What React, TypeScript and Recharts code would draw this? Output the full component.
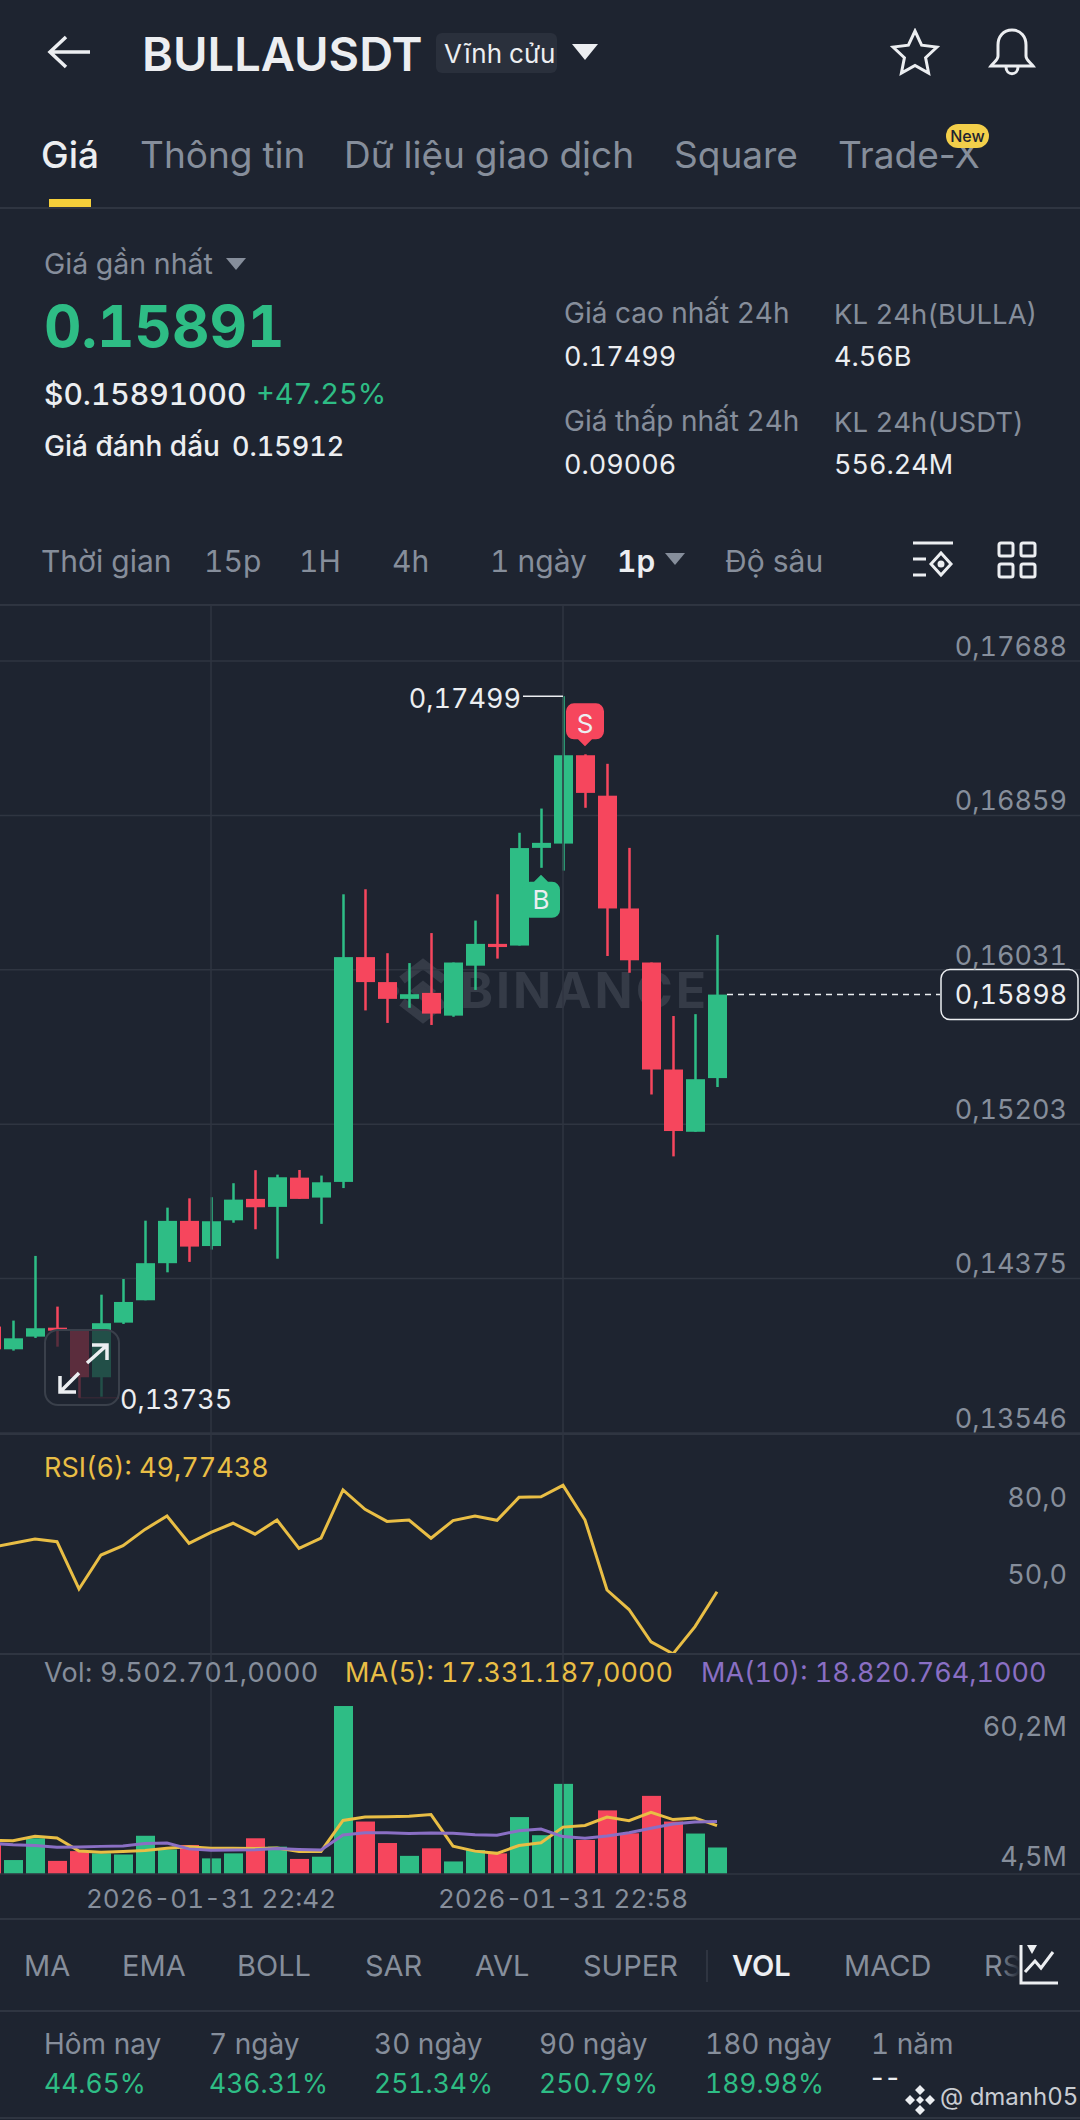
import { Bar, CartesianGrid, ComposedChart, Line, ReferenceDot, ReferenceLine, XAxis, YAxis } from "recharts";

const BG = "#1e2430";
const GRID = "#2f3541";
const GREEN = "#2ebd85";
const RED = "#f6465d";
const GREY = "#868e9b";
const YELLOW = "#e9be45";
const PURPLE = "#8a6fc4";
const WHITE = "#eceef1";
const FONT = "Inter, 'Noto Sans', sans-serif";

const times = [
  "22:32", "22:33", "22:34", "22:35", "22:36", "22:37", "22:38", "22:39", "22:40", "22:41", "22:42", "22:43",
  "22:44", "22:45", "22:46", "22:47", "22:48", "22:49", "22:50", "22:51", "22:52", "22:53", "22:54", "22:55",
  "22:56", "22:57", "22:58", "22:59", "23:00", "23:01", "23:02", "23:03", "23:04", "23:05",
];
const opens = [
  0.14117, 0.13995, 0.14063, 0.14111, 0.14095, 0.13845, 0.14138, 0.14258, 0.14457, 0.14684, 0.14549, 0.14687,
  0.14802, 0.14759, 0.14916, 0.14809, 0.14893, 0.16099, 0.15965, 0.15875, 0.15907, 0.15785, 0.16053, 0.1617,
  0.16161, 0.16685, 0.16708, 0.17182, 0.16965, 0.1636, 0.1607, 0.15496, 0.15162, 0.1545,
];
const highs = [
  0.14224, 0.14149, 0.14496, 0.14224, 0.14095, 0.14288, 0.14372, 0.14685, 0.14755, 0.14805, 0.14811, 0.14886,
  0.14956, 0.14932, 0.14957, 0.14927, 0.16436, 0.16463, 0.1612, 0.16067, 0.16228, 0.1607, 0.16295, 0.16436,
  0.16766, 0.16896, 0.17499, 0.17187, 0.17136, 0.16685, 0.1607, 0.15783, 0.15793, 0.16218,
];
const lows = [
  0.13995, 0.13988, 0.14056, 0.14009, 0.13735, 0.13741, 0.14131, 0.14258, 0.14408, 0.14464, 0.1453, 0.14674,
  0.14639, 0.14481, 0.14802, 0.14668, 0.1486, 0.15813, 0.15746, 0.15827, 0.15735, 0.15779, 0.15923, 0.16091,
  0.16161, 0.16578, 0.16563, 0.169, 0.16105, 0.16015, 0.15362, 0.1503, 0.15162, 0.15402,
];
const closes = [
  0.13995, 0.14054, 0.14108, 0.14095, 0.13845, 0.14135, 0.14249, 0.14457, 0.14684, 0.14546, 0.14682, 0.14798,
  0.14757, 0.14918, 0.14802, 0.14891, 0.16099, 0.15965, 0.15875, 0.159, 0.15796, 0.1607, 0.1617, 0.16153,
  0.16684, 0.16712, 0.17182, 0.1698, 0.1636, 0.16082, 0.15496, 0.15166, 0.15444, 0.15898,
];
const rsi = [
  66.4, 67.9, 69.5, 68.5, 50.8, 63.5, 67.0, 73.1, 78.1, 67.9, 72.0, 75.4, 71.3, 76.6, 66.0, 69.8, 87.9, 80.6, 76.1,
  76.6, 69.8, 76.4, 78.1, 76.5, 85.1, 85.3, 89.6, 76.6, 50.4, 43.1, 31.0, 26.5, 36.7, 49.77,
];
const volumes = [
  10.4, 5.0, 12.8, 4.7, 8.2, 7.4, 7.0, 13.7, 8.8, 10.4, 5.6, 7.4, 12.8, 9.8, 5.4, 6.2, 60.2, 18.8, 11.1, 6.5, 9.2,
  4.5, 8.6, 7.4, 20.4, 13.9, 32.3, 12.2, 22.8, 14.6, 28.0, 18.8, 14.5, 9.5,
];
const ma5 = [
  12.1, 11.9, 13.5, 12.9, 8.2, 7.8, 8.1, 8.4, 9.2, 9.8, 9.2, 9.2, 9.1, 9.3, 8.1, 8.1, 19.2, 20.4, 20.5, 20.7, 21.3,
  10.0, 8.2, 7.4, 10.2, 11.2, 16.8, 17.4, 20.4, 19.1, 22.1, 19.5, 20.1, 17.33,
];
const ma10 = [
  11.0, 10.5, 10.2, 9.6, 9.7, 9.9, 10.0, 10.9, 11.1, 9.0, 8.5, 8.6, 8.7, 9.1, 8.8, 8.6, 14.0, 14.8, 14.8, 14.5, 14.7,
  14.6, 14.1, 13.9, 15.5, 16.1, 13.4, 12.8, 13.6, 14.8, 16.4, 17.9, 18.6, 18.82,
];
const priceTicks = [0.17688, 0.16859, 0.16031, 0.15203, 0.14375, 0.13546];
const rsiTicks = [80, 50];
const volTicks = [60.2, 4.5];
const dateTicks = ["22:42", "22:58"];
const lastPrice = 0.15898;

const EMPTY_SLOTS = 16;
const rows = [
  ...times.map((time, i) => ({
    time,
    open: opens[i],
    high: highs[i],
    low: lows[i],
    close: closes[i],
    range: [lows[i], highs[i]],
    rsi: rsi[i],
    vol: volumes[i],
    ma5: ma5[i],
    ma10: ma10[i],
    up: closes[i] >= opens[i],
  })),
  ...Array.from({ length: EMPTY_SLOTS }, (_, i) => ({ time: `x${i}` })),
];

function Candle(props: any) {
  const { x, y, width, height, payload } = props;
  if (!payload || payload.high == null) return null;
  const k = Math.abs(height) / (payload.high - payload.low);
  const yOf = (v: number) => y + (payload.high - v) * k;
  const color = payload.up ? GREEN : RED;
  const top = yOf(Math.max(payload.open, payload.close));
  const bottom = yOf(Math.min(payload.open, payload.close));
  return (
    <g>
      <rect x={x + width / 2 - 1.25} y={y} width={2.5} height={Math.abs(height)} fill={color} />
      <rect x={x} y={top} width={width} height={Math.max(bottom - top, 1)} fill={color} />
    </g>
  );
}

function VolBar(props: any) {
  const { x, y, width, height, payload } = props;
  if (!payload || payload.vol == null) return null;
  return <rect x={x} y={y} width={width} height={height} fill={payload.up ? GREEN : RED} />;
}

const axisText = { fill: GREY, fontSize: 27, fontFamily: FONT, textAnchor: "end" as const };

function PriceTick({ y, payload }: any) {
  return (
    <text x={1087} y={y - 15} dy="0.36em" {...axisText}>
      {payload.value.toFixed(5).replace(".", ",")}
    </text>
  );
}

function RsiTick({ y, payload }: any) {
  return (
    <text x={1087} y={payload.value === 50 ? y - 17 : y - 14} dy="0.36em" {...axisText}>
      {payload.value.toFixed(1).replace(".", ",")}
    </text>
  );
}

function VolTick({ y, payload }: any) {
  return (
    <text x={1087} y={payload.value > 30 ? y + 20 : y - 5} dy="0.36em" {...axisText}>
      {payload.value.toFixed(1).replace(".", ",")}M
    </text>
  );
}

function DateTick({ x, y, payload }: any) {
  return (
    <text x={x} y={y + 17} dy="0.36em" fill={GREY} fontSize={26} fontFamily={FONT} textAnchor="middle">
      2026-01-31 {payload.value}
    </text>
  );
}

function HighLabel({ cx, cy }: any) {
  return (
    <g>
      <line x1={cx - 40} x2={cx} y1={cy} y2={cy} stroke={WHITE} strokeWidth={1.5} />
      <text x={cx - 42} y={cy + 2} dy="0.36em" fill={WHITE} fontSize={27} fontFamily={FONT} textAnchor="end">
        0,17499
      </text>
    </g>
  );
}

function LowLabel({ cx, cy }: any) {
  return (
    <g>
      <line x1={cx} x2={cx + 40} y1={cy} y2={cy} stroke={RED} strokeOpacity={0.35} strokeWidth={1.5} />
      <text x={cx + 41} y={cy + 2} dy="0.36em" fill={WHITE} fontSize={27} fontFamily={FONT}>
        0,13735
      </text>
    </g>
  );
}

function SellMark({ cx, cy }: any) {
  const t = cy - 8;
  return (
    <g>
      <path d={`M${cx} ${t} l-7 -7 h-4 a8 8 0 0 1 -8 -8 v-20 a8 8 0 0 1 8 -8 h22 a8 8 0 0 1 8 8 v20 a8 8 0 0 1 -8 8 h-4 z`} fill={RED} />
      <text x={cx} y={t - 23} dy="0.36em" fill={WHITE} fontSize={26} fontFamily={FONT} textAnchor="middle">
        S
      </text>
    </g>
  );
}

function BuyMark({ cx, cy }: any) {
  const t = cy + 7;
  return (
    <g>
      <path d={`M${cx} ${t} l7 7 h4 a8 8 0 0 1 8 8 v20 a8 8 0 0 1 -8 8 h-22 a8 8 0 0 1 -8 -8 v-20 a8 8 0 0 1 8 -8 h4 z`} fill={GREEN} />
      <text x={cx} y={t + 25} dy="0.36em" fill={WHITE} fontSize={26} fontFamily={FONT} textAnchor="middle">
        B
      </text>
    </g>
  );
}

function LastPriceTag({ cx, cy }: any) {
  return (
    <g>
      <line x1={cx + 10} x2={960} y1={cy} y2={cy} stroke={WHITE} strokeWidth={1.5} strokeDasharray="6 5" />
      <rect x={961} y={cy - 25} width={137} height={50} rx={9} fill={BG} stroke={WHITE} strokeWidth={1.5} />
      <text x={1031} y={cy} dy="0.36em" fill={WHITE} fontSize={27} fontFamily={FONT} textAnchor="middle">
        0,15898
      </text>
    </g>
  );
}

function T({ x, y, size = 27, color = GREY, weight = 400, children, spacing = 0, plain = false }: any) {
  return (
    <div
      style={{
        position: "absolute",
        left: x,
        top: y,
        transform: "translateY(-50%)",
        fontSize: size,
        color,
        fontWeight: weight,
        letterSpacing: spacing,
        whiteSpace: "nowrap",
        lineHeight: 1.2,
        fontVariantNumeric: plain ? "normal" : undefined,
      }}
    >
      {children}
    </div>
  );
}

function HLine({ y }: { y: number }) {
  return <div style={{ position: "absolute", left: 0, top: y, width: 1080, height: 1.5, background: GRID }} />;
}

function Tri({ x, y, w, h, color }: any) {
  return <div style={{ position: "absolute", left: x, top: y, width: 0, height: 0, borderLeft: `${w / 2}px solid transparent`, borderRight: `${w / 2}px solid transparent`, borderTop: `${h}px solid ${color}` }} />;
}

function Icon({ x, y, w, h, box, children }: any) {
  return (
    <svg style={{ position: "absolute", left: x, top: y }} width={w} height={h} viewBox={box} fill="none" stroke={WHITE} strokeWidth={3}>
      {children}
    </svg>
  );
}

const indicators: [string, number][] = [["MA", 24], ["EMA", 122], ["BOLL", 237], ["SAR", 365], ["AVL", 475], ["SUPER", 583], ["MACD", 844]];
const periods: [string, string, number][] = [
  ["Hôm nay", "44.65%", 44],
  ["7 ngày", "436.31%", 209],
  ["30 ngày", "251.34%", 374],
  ["90 ngày", "250.79%", 539],
  ["180 ngày", "189.98%", 705],
];

const xAxisProps = {
  dataKey: "time",
  hide: true,
  scale: "band" as const,
};

export default function App() {
  return (
    <div style={{ position: "absolute", left: 0, top: 0, width: 1080, height: 2120, overflow: "hidden", background: BG, fontFamily: FONT, fontVariantNumeric: "tabular-nums" }}>
      {/* header */}
      <Icon x={46} y={34} w={46} h={36} box="0 0 46 36">
        <path d="M44 18H4M20 3 4 18l16 15" strokeWidth={3.5} />
      </Icon>
      <T x={142} y={54} size={47} color={WHITE} weight={600}>BULLAUSDT</T>
      <div style={{ position: "absolute", left: 436, top: 33, width: 121, height: 40, borderRadius: 6, background: "#2a303c" }} />
      <T x={444} y={54} size={26} color={WHITE}>Vĩnh cửu</T>
      <Tri x={572} y={44} w={26} h={16} color={WHITE} />
      <Icon x={890} y={28} w={50} h={48} box="0 0 50 48">
        <path d="M25 3l6.6 14.2 15.4 1.9-11.4 10.6 3 15.3L25 37.4 11.4 45l3-15.3L3 19.1l15.4-1.9z" />
      </Icon>
      <Icon x={986} y={26} w={52} h={52} box="0 0 52 52">
        <path d="M26 4c-9 0-14 7-14 15v11c0 4-4 6-7 10h42c-3-4-7-6-7-10V19c0-8-5-15-14-15zM20 41c0 9 12 9 12 0" />
      </Icon>

      {/* tabs */}
      <T x={41} y={155} size={37} color={WHITE} weight={500}>Giá</T>
      <T x={140} y={155} size={37}>Thông tin</T>
      <T x={344} y={155} size={37}>Dữ liệu giao dịch</T>
      <T x={674} y={155} size={37}>Square</T>
      <T x={838} y={155} size={37} plain>Trade-X</T>
      <div style={{ position: "absolute", left: 946, top: 124, width: 43, height: 24, borderRadius: 12, background: "#f3cf4a", color: "#1e2430", fontSize: 16, fontWeight: 500, textAlign: "center", lineHeight: "24px" }}>New</div>
      <div style={{ position: "absolute", left: 49, top: 199, width: 42, height: 8, background: "#f5cf3a" }} />
      <HLine y={207} />

      {/* price summary */}
      <T x={44} y={264} size={28.5}>Giá gần nhất</T>
      <Tri x={226} y={258} w={20} h={12} color={GREY} />
      <T x={44} y={327} size={58} color={GREEN} weight={700}>0.15891</T>
      <T x={44} y={394} size={30} color={WHITE} weight={500}>$0.15891000</T>
      <T x={256} y={394} size={29} color={GREEN}>+47.25%</T>
      <T x={44} y={447} size={28} color={WHITE} weight={500}>Giá đánh dấu</T>
      <T x={232} y={447} size={27} color={WHITE} weight={500}>0.15912</T>
      <T x={564} y={314} size={28}>Giá cao nhất 24h</T>
      <T x={564} y={357} color={WHITE}>0.17499</T>
      <T x={834} y={314} size={27.5}>KL 24h(BULLA)</T>
      <T x={834} y={357} color={WHITE}>4.56B</T>
      <T x={564} y={422} size={28}>Giá thấp nhất 24h</T>
      <T x={564} y={465} color={WHITE}>0.09006</T>
      <T x={834} y={422} size={27.5}>KL 24h(USDT)</T>
      <T x={834} y={465} color={WHITE}>556.24M</T>

      {/* interval row */}
      <T x={41} y={561} size={30}>Thời gian</T>
      <T x={204} y={561} size={30}>15p</T>
      <T x={299} y={561} size={30}>1H</T>
      <T x={392} y={561} size={30}>4h</T>
      <T x={490} y={561} size={30}>1 ngày</T>
      <T x={617} y={561} size={30} color={WHITE} weight={600}>1p</T>
      <Tri x={665} y={553} w={20} h={12} color={GREY} />
      <T x={725} y={561} size={30}>Độ sâu</T>
      <Icon x={912} y={540} w={42} h={40} box="0 0 42 40">
        <path d="M1 3h40M1 19h13M1 35h13M29 13l10 11-10 11-10-11z" />
        <circle cx={29} cy={24} r={2} fill={WHITE} />
      </Icon>
      <Icon x={997} y={541} w={40} h={38} box="0 0 40 38">
        <rect x={2} y={2} width={14} height={13} rx={2} />
        <rect x={24} y={2} width={14} height={13} rx={2} />
        <rect x={2} y={23} width={14} height={13} rx={2} />
        <rect x={24} y={23} width={14} height={13} rx={2} />
      </Icon>
      <HLine y={604} />

      {/* watermark */}
      <svg style={{ position: "absolute", left: 388, top: 958 }} width={70} height={66} viewBox="0 0 70 66">
        <g fill="none" stroke="#353b47" strokeWidth={9}>
          <path d="M14 22 35 6l21 16" />
          <path d="M14 44l21 16 21-16" />
          <path d="M5 33h0M65 33h0" strokeLinecap="round" strokeWidth={12} />
          <path d="M25 33l10-8 10 8-10 8z" fill="#353b47" strokeWidth={4} />
        </g>
      </svg>
      <div style={{ position: "absolute", left: 460, top: 960, fontSize: 50, fontWeight: 700, letterSpacing: 3, color: "#353b47", lineHeight: "60px" }}>BINANCE</div>

      {/* candlesticks */}
      <div style={{ position: "absolute", left: -20, top: 605 }}>
        <ComposedChart width={1100} height={828} data={rows} margin={{ top: 0, right: 0, bottom: 0, left: 0 }}>
          <CartesianGrid vertical={false} stroke={GRID} strokeWidth={1.5} />
          <XAxis {...xAxisProps} />
          <YAxis orientation="right" mirror width={1} domain={[0.13546, 0.17988]} ticks={priceTicks} allowDataOverflow axisLine={false} tickLine={false} tick={PriceTick} interval={0} />
          {dateTicks.map((t) => (
            <ReferenceLine key={t} x={t} stroke={GRID} strokeWidth={1.5} />
          ))}
          <Bar dataKey="range" barSize={19} shape={Candle} isAnimationActive={false} />
          <ReferenceDot x="22:58" y={0.17499} shape={HighLabel} />
          <ReferenceDot x="22:36" y={0.13735} shape={LowLabel} />
          <ReferenceDot x="22:59" y={0.17187} shape={SellMark} />
          <ReferenceDot x="22:57" y={0.16578} shape={BuyMark} />
          <ReferenceDot x="23:05" y={lastPrice} shape={LastPriceTag} />
        </ComposedChart>
      </div>

      {/* expand button */}
      <div style={{ position: "absolute", left: 44, top: 1329, width: 76, height: 77, boxSizing: "border-box", borderRadius: 14, border: "2px solid #3a404b", background: "rgba(30,36,48,0.72)" }} />
      <Icon x={54} y={1340} w={58} h={58} box="0 0 58 58">
        <path d="M33 23 52 6M38 5h15v15M25 33 7 51M6 36v16h16" strokeWidth={3.5} />
      </Icon>

      {/* rsi */}
      <HLine y={1433} />
      <div style={{ position: "absolute", left: -20, top: 1433 }}>
        <ComposedChart width={1100} height={221} data={rows} margin={{ top: 0, right: 0, bottom: 0, left: 0 }}>
          <XAxis {...xAxisProps} />
          <YAxis orientation="right" mirror width={1} domain={[26.44, 109.2]} ticks={rsiTicks} allowDataOverflow axisLine={false} tickLine={false} tick={RsiTick} interval={0} />
          {dateTicks.map((t) => (
            <ReferenceLine key={t} x={t} stroke={GRID} strokeWidth={1.5} />
          ))}
          <Line dataKey="rsi" stroke={YELLOW} strokeWidth={3} dot={false} isAnimationActive={false} />
        </ComposedChart>
      </div>
      <T x={44} y={1468} color={YELLOW}>RSI(6): 49,77438</T>

      {/* volume */}
      <HLine y={1653} />
      <div style={{ position: "absolute", left: -20, top: 1653 }}>
        <ComposedChart width={1100} height={266} data={rows} margin={{ top: 0, right: 0, bottom: 0, left: 0 }}>
          <XAxis dataKey="time" height={45} ticks={dateTicks} interval={0} axisLine={{ stroke: GRID, strokeWidth: 1.5 }} tickLine={false} tick={DateTick} />
          <YAxis orientation="right" mirror width={1} domain={[0, 79.2]} ticks={volTicks} allowDataOverflow axisLine={false} tickLine={false} tick={VolTick} interval={0} />
          {dateTicks.map((t) => (
            <ReferenceLine key={t} x={t} stroke={GRID} strokeWidth={1.5} />
          ))}
          <Bar dataKey="vol" barSize={19} shape={VolBar} isAnimationActive={false} />
          <Line dataKey="ma5" stroke={YELLOW} strokeWidth={3} dot={false} isAnimationActive={false} />
          <Line dataKey="ma10" stroke={PURPLE} strokeWidth={3} dot={false} isAnimationActive={false} />
        </ComposedChart>
      </div>
      <T x={44} y={1673} color={GREY} spacing={0.3}>Vol: 9.502.701,0000</T>
      <T x={345} y={1673} color={YELLOW}>MA(5): 17.331.187,0000</T>
      <T x={701} y={1673} color={PURPLE}>MA(10): 18.820.764,1000</T>

      {/* indicator row */}
      <HLine y={1918} />
      {indicators.map(([name, x]) => (
        <T key={name} x={x} y={1966} size={29}>{name}</T>
      ))}
      <div style={{ position: "absolute", left: 706, top: 1950, width: 1.5, height: 32, background: GRID }} />
      <T x={732} y={1966} size={29} color={WHITE} weight={600}>VOL</T>
      <T x={984} y={1966} size={29}>RS</T>
      <div style={{ position: "absolute", left: 1000, top: 1945, width: 20, height: 40, background: `linear-gradient(to right, rgba(30,36,48,0), ${BG})` }} />
      <Icon x={1018} y={1942} w={42} h={44} box="0 0 42 44">
        <path d="M3 3v38h37M7 30l10-11 6 7 12-16" />
        <path d="M9 3h10l-5 9z" fill={WHITE} stroke="none" />
      </Icon>
      <HLine y={2010} />

      {/* returns */}
      {periods.map(([label, value, x]) => (
        <div key={label}>
          <T x={x} y={2045} size={28}>{label}</T>
          <T x={x} y={2084} size={26.5} color={GREEN}>{value}</T>
        </div>
      ))}
      <T x={871} y={2045} size={28}>1 năm</T>
      <T x={871} y={2078} color={WHITE} plain spacing={3}>--</T>
      <svg style={{ position: "absolute", left: 905, top: 2084 }} width={30} height={32} viewBox="0 0 30 32" fill={WHITE}>
        <path d="M15 1l5 5-5 5-5-5zM5 11l5 5-5 5-5-5zM25 11l5 5-5 5-5-5zM15 12l4 4-4 4-4-4zM15 21l5 5-5 5-5-5z" />
      </svg>
      <T x={940} y={2097} size={24} color="#c9ccd2">@ dmanh05</T>
      <HLine y={2117} />
    </div>
  );
}
